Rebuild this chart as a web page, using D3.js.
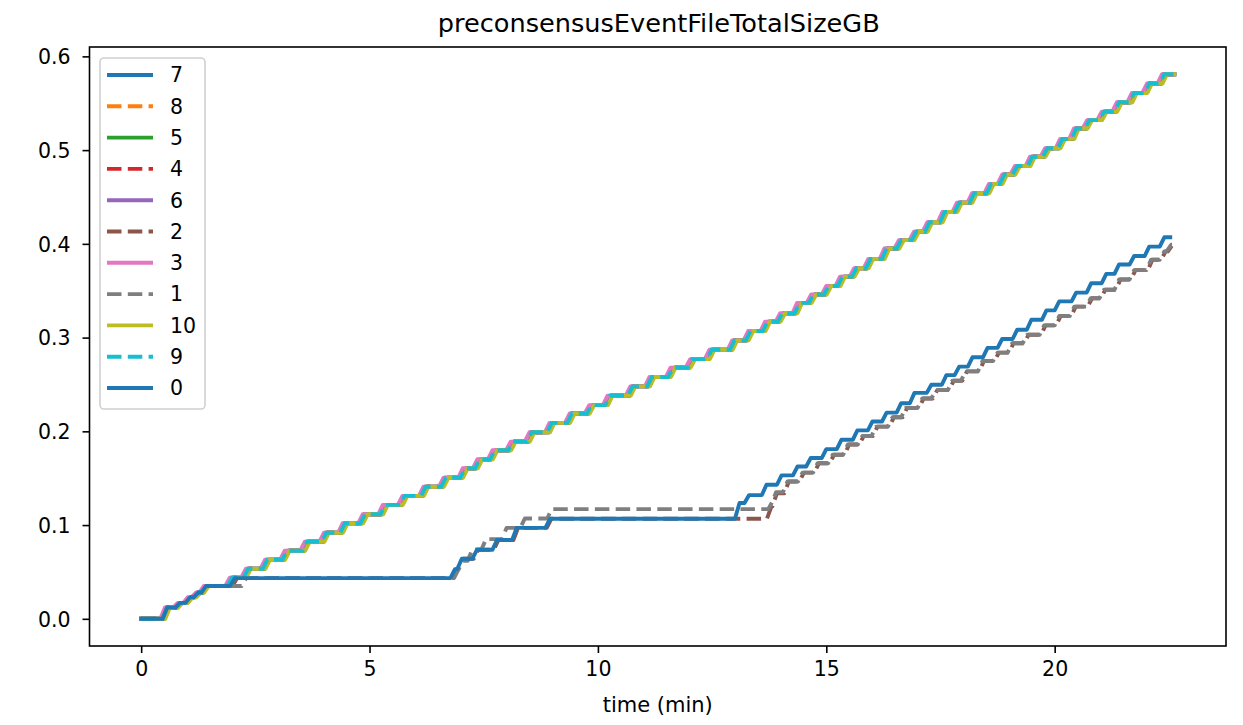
<!DOCTYPE html>
<html><head><meta charset="utf-8">
<script src="https://cdn.jsdelivr.net/npm/d3@7"></script>
<style>body{margin:0;background:#fff}svg{display:block;font-family:"DejaVu Sans",sans-serif}</style>
</head><body><svg id="c" width="1243" height="725"></svg>
<script>
// ---- data (riser end time in min, value in GB after each step) ----
const title = "preconsensusEventFileTotalSizeGB";
const xLabel = "time (min)";
const xTicks = [0, 5, 10, 15, 20];
const yTicks = [0.0, 0.1, 0.2, 0.3, 0.4, 0.5, 0.6];
const xLimits = [-1.131, 23.751];
const yLimits = [-0.029, 0.61];

const legendNames = ["7","8","5","4","6","2","3","1","10","9","0"];
const seriesColors = ["#1f77b4","#ff7f0e","#2ca02c","#d62728","#9467bd","#8c564b","#e377c2","#7f7f7f","#bcbd22","#17becf","#1f77b4"];
const seriesDashed = [false,true,false,true,false,true,false,true,false,true,false];

const upperT = [0.57,0.85,1.07,1.25,1.42,1.99,2.34,2.76,3.19,3.63,4.05,4.46,4.90,5.34,5.77,6.23,6.67,7.09,7.41,7.74,8.14,8.55,8.99,9.43,9.86,10.26,10.76,11.18,11.64,12.07,12.49,12.99,13.34,13.71,14.04,14.41,14.72,15.05,15.35,15.66,15.97,16.32,16.64,16.97,17.26,17.59,17.91,18.24,18.61,18.90,19.18,19.51,19.84,20.17,20.47,20.76,21.08,21.41,21.74,22.07,22.40];
const upperV = [0.012,0.017,0.023,0.028,0.035,0.0438,0.0534,0.0630,0.0726,0.0822,0.0918,0.1019,0.1115,0.1216,0.1312,0.1409,0.1505,0.1606,0.1702,0.1798,0.189,0.199,0.209,0.219,0.228,0.238,0.248,0.258,0.268,0.277,0.287,0.297,0.307,0.317,0.326,0.337,0.346,0.355,0.365,0.374,0.384,0.395,0.404,0.413,0.423,0.434,0.444,0.454,0.464,0.474,0.483,0.493,0.502,0.512,0.523,0.532,0.541,0.551,0.561,0.571,0.581];
const upperEnd = 22.62;
// small time lags of nodes 7,8,5,4,6,3,10,9 on the shared upper staircase
const upperLag = {"7":0.04,"8":0.01,"5":0.03,"4":-0.02,"6":0.02,"3":-0.05,"10":0.06,"9":0.0};

const node0T = [0.57,0.85,1.07,1.25,1.42,2.05,6.87,7.02,7.35,7.79,8.22,8.95,13.10,13.31,13.69,14.02,14.37,14.66,15.0,15.33,15.68,16.01,16.32,16.64,16.93,17.30,17.63,17.91,18.20,18.53,18.85,19.18,19.49,19.82,20.10,20.47,20.80,21.13,21.41,21.74,22.07,22.40];
const node0V = [0.012,0.017,0.023,0.028,0.035,0.0434,0.053,0.064,0.0736,0.084,0.097,0.1067,0.1235,0.132,0.143,0.153,0.1625,0.1715,0.181,0.191,0.201,0.2105,0.220,0.230,0.241,0.2497,0.260,0.269,0.279,0.289,0.2985,0.3084,0.319,0.329,0.3386,0.348,0.358,0.368,0.378,0.387,0.397,0.407];
const node0End = 22.53;

const node1T = [0.57,0.85,1.07,1.25,1.42,2.30,6.95,7.05,7.25,7.55,8.0,8.4,8.99,13.83,13.90];
const node1V = [0.012,0.017,0.023,0.028,0.035,0.0434,0.053,0.062,0.074,0.085,0.097,0.107,0.117,0.126,0.135];
const node2T = [0.57,0.85,1.07,1.25,1.42,2.10,6.90,7.05,7.38,7.82,8.25,8.98,13.80,13.92];
const node2V = [0.012,0.017,0.023,0.028,0.035,0.0434,0.053,0.064,0.0736,0.084,0.097,0.1067,0.12,0.134];
const lateT = [14.15,14.48,14.81,15.14,15.47,15.79,16.09,16.45,16.74,17.10,17.40,17.76,18.05,18.42,18.75,19.07,19.40,19.77,20.10,20.43,20.79,21.08,21.41,21.74,22.11,22.40,22.55];
const lateV = [0.1465,0.156,0.166,0.175,0.186,0.195,0.205,0.215,0.225,0.235,0.244,0.254,0.264,0.275,0.284,0.294,0.303,0.313,0.323,0.333,0.342,0.351,0.362,0.372,0.383,0.392,0.399];
const node2LateLag = 0.03;
const lowerEnd = 22.57;

// ---- build step polylines ----
const RISE = 0.1;
function steps(T, V, lag, end) {
  const pts = [[0, 0]];
  let pt = 0, pv = 0;
  for (let k = 0; k < T.length; k++) {
    const t = T[k] + lag;
    const s = Math.max(pt, t - RISE);
    pts.push([s, pv]);
    pts.push([t, V[k]]);
    pt = t; pv = V[k];
  }
  pts.push([Math.max(end, pt), pv]);
  return pts;
}
const seriesData = {};
["7","8","5","4","6","3","10","9"].forEach(n => seriesData[n] = steps(upperT, upperV, upperLag[n], upperEnd));
seriesData["0"] = steps(node0T, node0V, 0, node0End);
seriesData["1"] = steps(node1T.concat(lateT), node1V.concat(lateV), 0, lowerEnd);
seriesData["2"] = steps(node2T.concat(lateT.map(t => t + node2LateLag)), node2V.concat(lateV), 0, lowerEnd);

// ---- layout ----
const svg = d3.select("#c");
const L = 89.5, R = 1226, T0 = 47, B = 646;
const x = d3.scaleLinear().domain(xLimits).range([L, R]);
const y = d3.scaleLinear().domain(yLimits).range([B, T0]);
const FS = 20.5;
const LW = 3.9;

svg.append("rect").attr("width",1243).attr("height",725).attr("fill","#fff");

const line = d3.line().x(d => x(d[0])).y(d => y(d[1]));
const g = svg.append("g");
legendNames.forEach((n, i) => {
  g.append("path").datum(seriesData[n]).attr("d", line)
    .attr("fill","none").attr("stroke", seriesColors[i]).attr("stroke-width", LW)
    .attr("stroke-linejoin","round")
    .attr("stroke-linecap", seriesDashed[i] ? "butt" : "square")
    .attr("stroke-dasharray", seriesDashed[i] ? "14.5,6.3" : null);
});

// axes
const xAxis = d3.axisBottom(x).tickValues(xTicks).tickFormat(d3.format("d")).tickSize(7).tickPadding(6);
const yAxis = d3.axisLeft(y).tickValues(yTicks).tickFormat(d3.format(".1f")).tickSize(7).tickPadding(12);
const gx = svg.append("g").attr("transform",`translate(0,${B})`).call(xAxis);
const gy = svg.append("g").attr("transform",`translate(${L},0)`).call(yAxis);
[gx, gy].forEach(a => {
  a.select(".domain").remove();
  a.selectAll(".tick line").attr("stroke","#000").attr("stroke-width",1.6);
  a.selectAll(".tick text").attr("font-size",FS).attr("fill","#000").attr("font-family","DejaVu Sans");
});
gx.selectAll(".tick text").attr("dy","0.85em");
gy.selectAll(".tick text").attr("dy","0.36em");

svg.append("rect").attr("x",L).attr("y",T0).attr("width",R-L).attr("height",B-T0)
  .attr("fill","none").attr("stroke","#000").attr("stroke-width",1.6);

svg.append("text").attr("x",(L+R)/2 + 1).attr("y",32).attr("text-anchor","middle")
  .attr("font-size",25.6).text(title);
svg.append("text").attr("x",(L+R)/2).attr("y",712).attr("text-anchor","middle")
  .attr("font-size",21).text(xLabel);

// legend
const lg = svg.append("g");
lg.append("rect").attr("x",100).attr("y",58).attr("width",105).attr("height",351).attr("rx",4)
  .attr("fill","#fff").attr("fill-opacity",0.8).attr("stroke","#d0d0d0").attr("stroke-width",1.6);
legendNames.forEach((n, i) => {
  const yy = 75 + i * 31.3;
  lg.append("line").attr("x1",107).attr("x2",153).attr("y1",yy).attr("y2",yy)
    .attr("stroke", seriesColors[i]).attr("stroke-width",LW)
    .attr("stroke-dasharray", seriesDashed[i] ? "14.5,6.3" : null);
  lg.append("text").attr("x",170).attr("y",yy).attr("dy","0.36em").attr("font-size",FS).text(n);
});
</script></body></html>
